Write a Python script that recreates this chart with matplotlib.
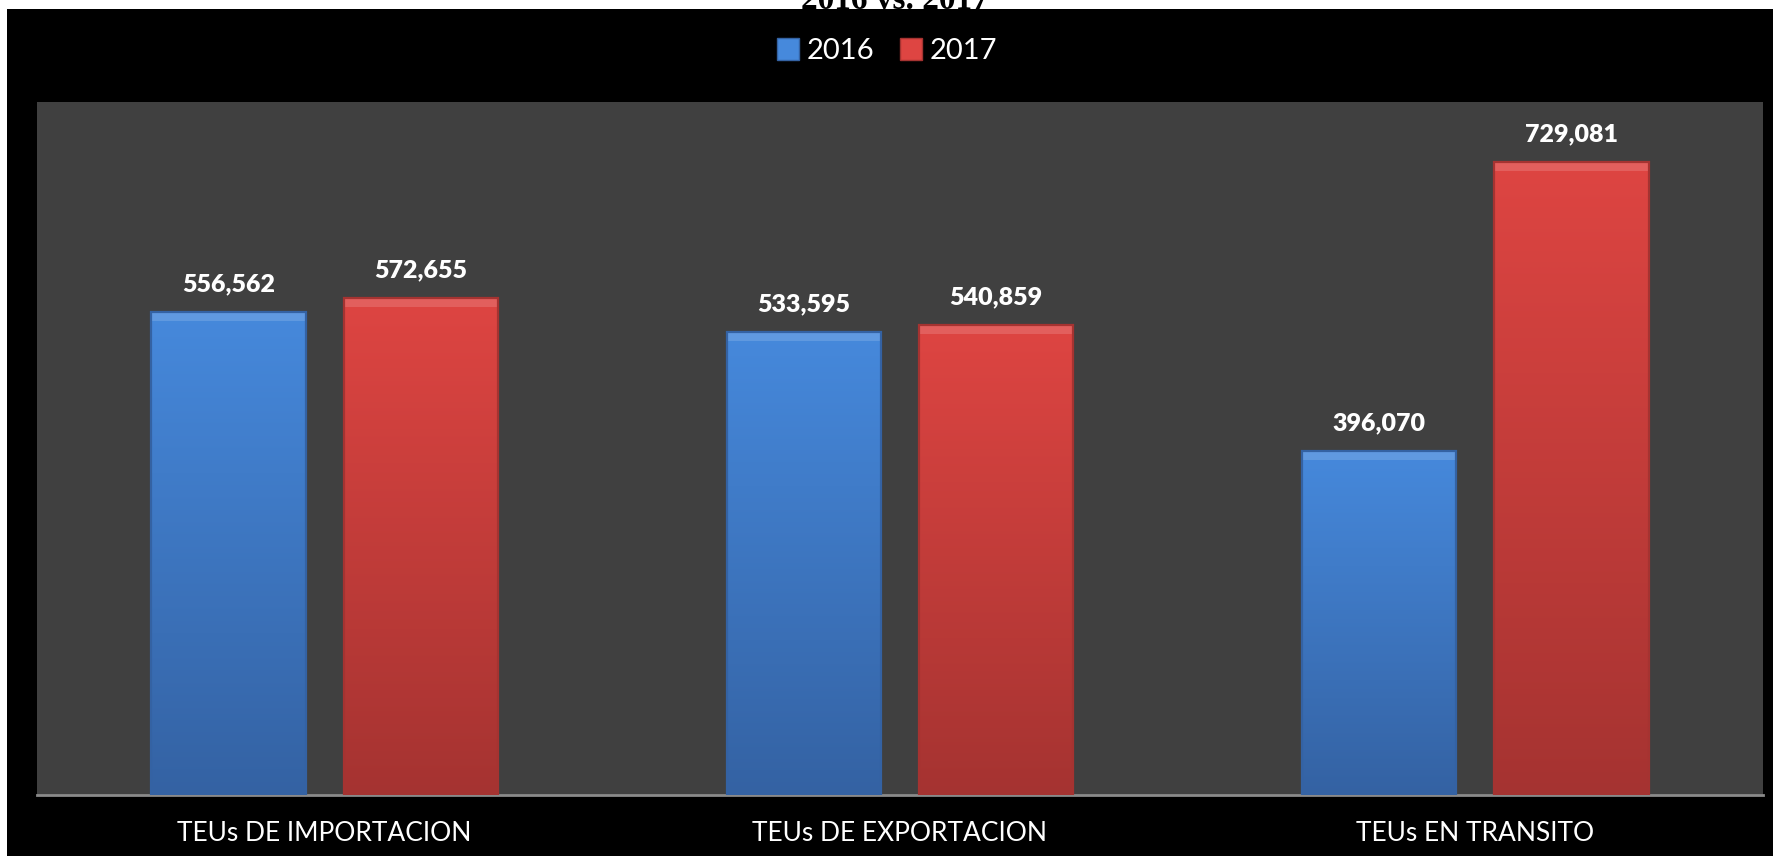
import numpy as np
import matplotlib
matplotlib.use("Agg")
import matplotlib.pyplot as plt
from matplotlib.patches import Patch, Rectangle
from matplotlib.colors import LinearSegmentedColormap

# data
categories = ["TEUs DE IMPORTACION", "TEUs DE EXPORTACION", "TEUs EN TRANSITO"]
years = ["2016", "2017"]
values_2016 = [556562, 533595, 396070]
values_2017 = [572655, 540859, 729081]
title = "2016 vs. 2017"

blue_top, blue_bot = "#4689DC", "#3462A3"
red_top, red_bot = "#DE4542", "#A53331"
plot_bg = "#404040"
fonts = ["Lato", "DejaVu Sans"]

W, H = 1774, 856
fig = plt.figure(figsize=(W / 100, H / 100), dpi=100, facecolor="white")

# black frame behind everything
fig.patches.append(Rectangle((7 / W, 0), 1 - 7 / W, 1 - 9 / H,
                             transform=fig.transFigure, facecolor="black",
                             edgecolor="none", zorder=-5))

ax = fig.add_axes([37 / W, 1 - 795 / H, (1763 - 37) / W, (795 - 102) / H])
ax.set_zorder(2)
ax.set_facecolor(plot_bg)

x = np.arange(len(categories))
width = 0.268
offset = 0.167
ymax = 798000


def gradient_bars(xs, vals, c_top, c_bot):
    cmap = LinearSegmentedColormap.from_list("g", [c_bot, c_top])
    bars = ax.bar(xs, vals, width, color=c_top, edgecolor="none", zorder=2)
    grad = np.linspace(0, 1, 256).reshape(-1, 1)
    for b in bars:
        x0, w, h = b.get_x(), b.get_width(), b.get_height()
        im = ax.imshow(grad, cmap=cmap, origin="lower", aspect="auto",
                       extent=[x0, x0 + w, 0, h], zorder=3,
                       interpolation="bicubic")
        im.set_clip_path(b)
        # bevel: light strip on top, darker sides
        bevel = ymax * 0.013
        ax.add_patch(Rectangle((x0, h - bevel), w, bevel, facecolor="white",
                               alpha=0.15, edgecolor="none", zorder=4))
        ax.add_patch(Rectangle((x0, 0), w, h, facecolor="none",
                               edgecolor=c_bot, linewidth=1.6, zorder=5))
        ax.text(x0 + w / 2, h + ymax * 0.024, f"{int(h):,}", ha="center",
                va="bottom", color="white", fontsize=18, fontweight="heavy",
                family=fonts, zorder=6)
    return bars


gradient_bars(x - offset, values_2016, blue_top, blue_bot)
gradient_bars(x + offset, values_2017, red_top, red_bot)

ax.set_xlim(-0.5, 2.5)
ax.set_ylim(0, ymax)
ax.set_yticks([])
ax.set_xticks(x)
ax.set_xticklabels(categories, color="white", fontsize=19,
                   family=fonts, fontweight="normal")
ax.tick_params(axis="x", length=0, pad=19)
for s in ["top", "left", "right"]:
    ax.spines[s].set_visible(False)
ax.spines["bottom"].set_color("#8a8a8a")
ax.spines["bottom"].set_linewidth(2)

handles = [Patch(facecolor=blue_top, edgecolor=blue_bot),
           Patch(facecolor=red_top, edgecolor=red_bot)]
fig.legend(handles, years, loc="center", bbox_to_anchor=(0.5, 1 - 51 / H),
           ncol=2, frameon=False, labelcolor="white",
           handlelength=0.75, handleheight=0.75, handletextpad=0.25,
           columnspacing=0.9, prop={"family": fonts,
                                    "weight": "normal", "size": 21})

fig.text(0.5045, 1 - 9 / H, title, ha="center", va="baseline", color="black",
         fontsize=24, fontweight="bold", family=["Liberation Serif"], zorder=1)

fig.savefig("out.png", dpi=100, facecolor=fig.get_facecolor())
